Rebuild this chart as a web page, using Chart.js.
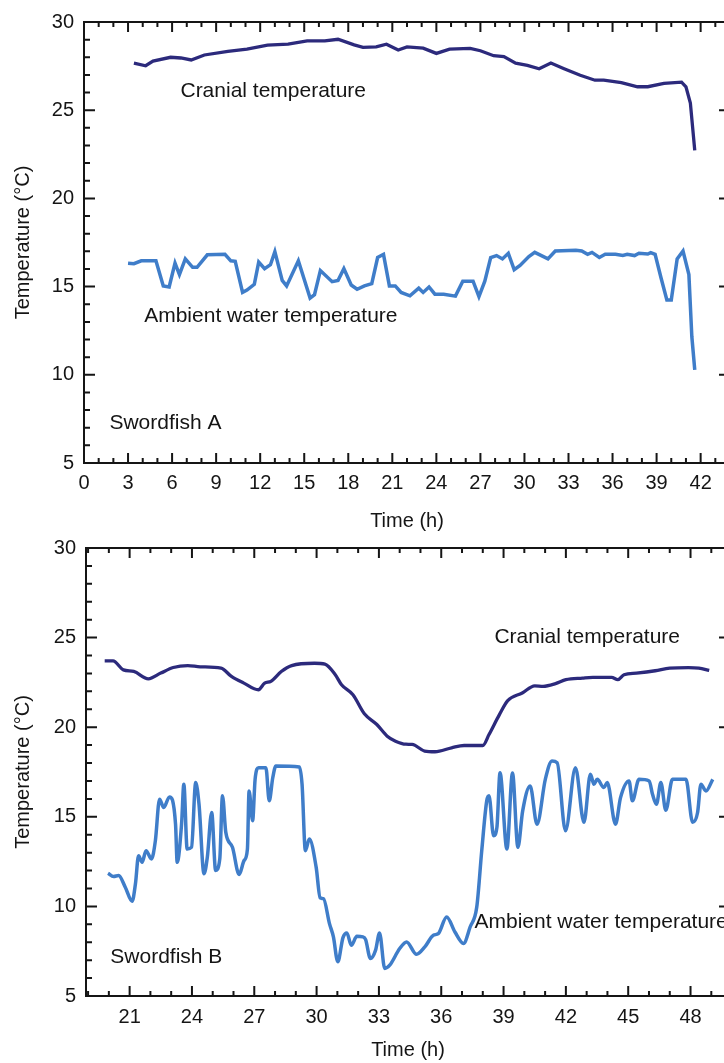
<!DOCTYPE html>
<html>
<head>
<meta charset="utf-8">
<script src="https://cdn.jsdelivr.net/npm/chart.js@4.4.1/dist/chart.umd.min.js"></script>
<style>
  html, body { margin: 0; padding: 0; background: #fff; overflow: hidden; width: 724px; height: 1063px; }
  canvas { position: absolute; left: 0; }
  #chartA { top: 0; }
  #chartB { top: 526px; }
</style>
</head>
<body>
<canvas id="chartA" width="730" height="536"></canvas>
<canvas id="chartB" width="730" height="537"></canvas>
<script>
// Swordfish A - cranial temperature
const hoursA_cranial = [3.4, 4.2, 4.7, 5.9, 6.6, 7.3, 8.2, 9.8, 11.1, 12.5, 13.9, 15.2, 16.4, 17.3, 18.4, 19.0, 19.9, 20.6, 21.4, 22.0, 23.1, 24.0, 24.9, 26.3, 27.0, 27.9, 28.6, 29.4, 30.2, 31.0, 31.8, 32.7, 33.8, 34.8, 35.4, 36.6, 37.7, 38.4, 39.5, 40.7, 41.0, 41.3, 41.6]
const tempA_cranial = [27.67, 27.52, 27.78, 28.0, 27.96, 27.85, 28.13, 28.33, 28.46, 28.69, 28.74, 28.93, 28.93, 29.02, 28.7, 28.56, 28.59, 28.74, 28.41, 28.59, 28.52, 28.22, 28.46, 28.5, 28.37, 28.09, 28.04, 27.67, 27.54, 27.35, 27.67, 27.35, 26.98, 26.7, 26.7, 26.56, 26.33, 26.33, 26.52, 26.59, 26.33, 25.41, 22.72]

// Swordfish A - ambient water temperature
const hoursA_ambient = [3.0, 3.4, 3.9, 4.9, 5.4, 5.8, 6.2, 6.5, 6.9, 7.4, 7.7, 8.4, 9.6, 10.0, 10.3, 10.8, 11.1, 11.6, 11.9, 12.3, 12.7, 13.0, 13.5, 13.8, 14.6, 15.4, 15.7, 16.1, 16.9, 17.3, 17.7, 18.2, 18.6, 19.1, 19.6, 20.0, 20.4, 20.8, 21.2, 21.6, 22.2, 22.8, 23.1, 23.5, 23.9, 24.5, 25.3, 25.8, 26.5, 26.9, 27.3, 27.7, 28.1, 28.5, 28.9, 29.3, 29.7, 30.3, 30.7, 31.6, 32.1, 33.5, 33.9, 34.3, 34.6, 35.1, 35.5, 36.2, 36.7, 37.0, 37.5, 37.8, 38.4, 38.6, 38.9, 39.3, 39.7, 40.0, 40.4, 40.8, 41.2, 41.4, 41.6]
const tempA_ambient = [16.33, 16.3, 16.46, 16.46, 15.04, 14.98, 16.33, 15.68, 16.57, 16.09, 16.09, 16.8, 16.83, 16.46, 16.43, 14.67, 14.8, 15.13, 16.39, 16.02, 16.24, 16.98, 15.35, 15.04, 16.46, 14.35, 14.54, 15.91, 15.28, 15.35, 16.02, 15.09, 14.85, 15.04, 15.17, 16.65, 16.83, 15.04, 15.04, 14.67, 14.48, 14.91, 14.67, 14.98, 14.57, 14.57, 14.46, 15.31, 15.31, 14.43, 15.31, 16.65, 16.76, 16.57, 16.89, 15.96, 16.2, 16.7, 16.94, 16.57, 17.02, 17.06, 17.02, 16.83, 16.94, 16.65, 16.83, 16.83, 16.76, 16.83, 16.76, 16.89, 16.85, 16.93, 16.83, 15.5, 14.24, 14.24, 16.57, 17.02, 15.68, 12.17, 10.28]

// Swordfish B - cranial temperature
const hoursB_cranial = [19.8, 20.2, 20.7, 21.2, 21.9, 22.5, 23.1, 23.8, 24.4, 25.4, 25.9, 26.5, 27.2, 27.5, 27.8, 28.3, 28.8, 29.9, 30.4, 30.9, 31.2, 31.75, 32.3, 32.9, 33.4, 33.8, 34.3, 34.6, 35.2, 35.7, 36.5, 37.1, 38.0, 38.3, 38.8, 39.2, 39.9, 40.5, 40.9, 41.5, 42.0, 42.8, 43.3, 44.2, 44.5, 44.8, 45.4, 46.3, 47.0, 47.9, 48.4, 48.9]
const tempB_cranial = [23.7, 23.7, 23.2, 23.11, 22.7, 23.02, 23.33, 23.44, 23.37, 23.3, 22.83, 22.46, 22.09, 22.46, 22.56, 23.11, 23.44, 23.57, 23.52, 22.93, 22.37, 21.81, 20.75, 20.15, 19.5, 19.22, 19.05, 19.04, 18.67, 18.63, 18.85, 18.98, 18.98, 19.59, 20.7, 21.48, 21.91, 22.31, 22.28, 22.43, 22.65, 22.74, 22.78, 22.78, 22.65, 22.93, 23.02, 23.15, 23.3, 23.33, 23.3, 23.17]

// Swordfish B - ambient water temperature
const hoursB_ambient = [19.96, 20.23, 20.47, 20.79, 21.12, 21.28, 21.43, 21.6, 21.79, 22.05, 22.24, 22.44, 22.64, 22.92, 23.21, 23.29, 23.5, 23.61, 23.77, 23.98, 24.18, 24.34, 24.58, 24.74, 24.95, 25.14, 25.34, 25.47, 25.63, 25.95, 26.27, 26.51, 26.67, 26.75, 26.92, 27.04, 27.21, 27.56, 27.72, 27.89, 28.04, 29.17, 29.3, 29.46, 29.65, 29.98, 30.17, 30.33, 30.62, 30.81, 31.02, 31.27, 31.46, 31.67, 31.94, 32.23, 32.36, 32.59, 32.84, 33.03, 33.28, 33.52, 34.0, 34.33, 34.81, 35.21, 35.62, 35.86, 36.26, 36.66, 37.07, 37.39, 37.71, 37.95, 38.19, 38.3, 38.52, 38.68, 38.83, 39.16, 39.43, 39.69, 39.92, 40.28, 40.61, 41.01, 41.33, 41.58, 41.98, 42.46, 42.87, 43.18, 43.35, 43.51, 43.83, 43.99, 44.39, 44.63, 45.04, 45.2, 45.52, 46.01, 46.17, 46.36, 46.57, 46.81, 47.13, 47.78, 48.1, 48.34, 48.5, 48.74, 49.07]
const tempB_ambient = [11.85, 11.67, 11.72, 11.07, 10.29, 11.26, 12.83, 12.46, 13.11, 12.65, 13.67, 15.98, 15.52, 16.11, 14.59, 12.46, 14.59, 16.82, 13.2, 13.3, 16.91, 15.7, 11.82, 12.74, 15.24, 12.0, 12.65, 16.17, 14.13, 13.3, 11.78, 12.56, 13.2, 16.44, 14.78, 17.09, 17.74, 17.74, 15.89, 17.18, 17.83, 17.78, 16.82, 13.11, 13.76, 12.18, 10.48, 10.43, 9.04, 8.3, 6.91, 8.26, 8.52, 7.83, 8.33, 8.3, 8.15, 7.09, 7.56, 8.52, 6.54, 6.72, 7.65, 8.02, 7.33, 7.74, 8.39, 8.48, 9.41, 8.57, 7.93, 8.85, 9.96, 13.11, 15.89, 16.17, 13.94, 14.41, 17.46, 13.2, 17.44, 13.3, 15.33, 16.72, 14.59, 17.09, 18.11, 18.02, 14.22, 17.74, 14.69, 17.37, 16.82, 17.09, 16.63, 16.91, 14.59, 16.07, 17.0, 15.89, 17.09, 17.0, 16.26, 15.7, 16.91, 15.37, 17.09, 17.09, 14.69, 15.24, 16.82, 16.44, 17.09]

// tick labels
const xTicksA = [0, 3, 6, 9, 12, 15, 18, 21, 24, 27, 30, 33, 36, 39, 42]
const xTicksB = [21, 24, 27, 30, 33, 36, 39, 42, 45, 48]
const yTicks = [5, 10, 15, 20, 25, 30]

// text labels placed in data units
const notesA = [
  { text: 'Cranial temperature', x: 6.57, y: 26.1 },
  { text: 'Ambient water temperature', x: 4.1, y: 13.33 },
  { text: 'Swordfish A', x: 1.73, y: 7.24 },
]
const notesB = [
  { text: 'Cranial temperature', x: 38.56, y: 25.0 },
  { text: 'Ambient water temperature', x: 37.6, y: 9.1 },
  { text: 'Swordfish B', x: 20.07, y: 7.14 },
]

const navy = '#2c2a7c'
const blue = '#3f7dc9'
const ink = '#151515'
const fontFamily = "'Liberation Sans', Arial, Helvetica, sans-serif"

Chart.defaults.font.family = fontFamily
Chart.defaults.font.size = 20
Chart.defaults.color = ink

const toPoints = (xs, ys) => xs.map((x, i) => ({ x: x, y: ys[i] }))

// frame, inward ticks on all four sides, and text labels
const frameTicks = {
  id: 'frameTicks',
  afterDatasetsDraw(chart, args, opts) {
    const { ctx, chartArea: a, scales: { x, y } } = chart
    ctx.save()
    ctx.strokeStyle = ink
    ctx.lineWidth = 2
    ctx.strokeRect(a.left, a.top, a.right - a.left, a.bottom - a.top)
    ctx.beginPath()
    for (let v = Math.ceil(x.min); v <= x.max; v++) {
      const px = x.getPixelForValue(v)
      if (px < a.left + 2 || px > a.right - 2) continue
      const len = v % 3 === 0 ? 10 : 5
      ctx.moveTo(px, a.bottom)
      ctx.lineTo(px, a.bottom - len)
      ctx.moveTo(px, a.top)
      ctx.lineTo(px, a.top + len)
    }
    for (let v = Math.ceil(y.min); v <= y.max; v++) {
      const py = y.getPixelForValue(v)
      if (py < a.top + 2 || py > a.bottom - 2) continue
      const len = v % 5 === 0 ? 11 : 6
      ctx.moveTo(a.left, py)
      ctx.lineTo(a.left + len, py)
      ctx.moveTo(a.right, py)
      ctx.lineTo(a.right - len, py)
    }
    ctx.stroke()

    ctx.fillStyle = ink
    ctx.font = '21px ' + fontFamily
    ctx.textAlign = 'left'
    ctx.textBaseline = 'middle'
    opts.notes.forEach((n) => {
      ctx.fillText(n.text, x.getPixelForValue(n.x), y.getPixelForValue(n.y))
    })
    ctx.restore()
  },
}

function makeChart(id, cfg) {
  const ctx = document.getElementById(id).getContext('2d')
  return new Chart(ctx, {
    type: 'line',
    data: {
      datasets: [
        {
          label: 'Cranial temperature',
          data: toPoints(cfg.cranialX, cfg.cranialY),
          borderColor: navy,
          borderWidth: 3.3,
          pointRadius: 0,
          cubicInterpolationMode: cfg.smooth ? 'monotone' : 'default',
          tension: 0,
        },
        {
          label: 'Ambient water temperature',
          data: toPoints(cfg.ambientX, cfg.ambientY),
          borderColor: blue,
          borderWidth: 3.5,
          pointRadius: 0,
          cubicInterpolationMode: cfg.smooth ? 'monotone' : 'default',
          tension: 0,
        },
      ],
    },
    options: {
      responsive: false,
      animation: false,
      events: [],
      layout: { padding: { top: cfg.padTop, left: 0, right: 0, bottom: 0 } },
      plugins: {
        legend: { display: false },
        tooltip: { enabled: false },
        frameTicks: { notes: cfg.notes },
      },
      scales: {
        x: {
          type: 'linear',
          min: cfg.xMin,
          max: cfg.xMax,
          grid: { display: false, drawTicks: false },
          border: { display: false },
          afterBuildTicks: (scale) => {
            scale.ticks = cfg.xTicks.map((v) => ({ value: v }))
          },
          afterFit: (scale) => {
            scale.height = cfg.xHeight
          },
          ticks: { padding: cfg.xPad, maxRotation: 0, autoSkip: false, color: ink },
          title: {
            display: true,
            text: 'Time (h)',
            color: ink,
            font: { size: 20 },
            padding: { top: 0, bottom: cfg.titlePad },
          },
        },
        y: {
          type: 'linear',
          min: 5,
          max: 30,
          grid: { display: false, drawTicks: false },
          border: { display: false },
          afterBuildTicks: (scale) => {
            scale.ticks = yTicks.map((v) => ({ value: v }))
          },
          afterFit: (scale) => {
            scale.width = cfg.yWidth
          },
          ticks: { padding: 10, color: ink },
          title: {
            display: true,
            text: 'Temperature (°C)',
            color: ink,
            font: { size: 20 },
            padding: { top: 11, bottom: 0 },
          },
        },
      },
    },
    plugins: [frameTicks],
  })
}

window.onload = () => {
  makeChart('chartA', {
    cranialX: hoursA_cranial, cranialY: tempA_cranial,
    ambientX: hoursA_ambient, ambientY: tempA_ambient,
    notes: notesA, xTicks: xTicksA,
    xMin: 0, xMax: 44, padTop: 14, xHeight: 73, xPad: 8, titlePad: 3, yWidth: 84,
    smooth: false,
  })
  makeChart('chartB', {
    cranialX: hoursB_cranial, cranialY: tempB_cranial,
    ambientX: hoursB_ambient, ambientY: tempB_ambient,
    notes: notesB, xTicks: xTicksB,
    xMin: 18.9, xMax: 49.9, padTop: 20, xHeight: 67, xPad: 9, titlePad: 1, yWidth: 86,
    smooth: true,
  })
}
</script>
</body>
</html>
